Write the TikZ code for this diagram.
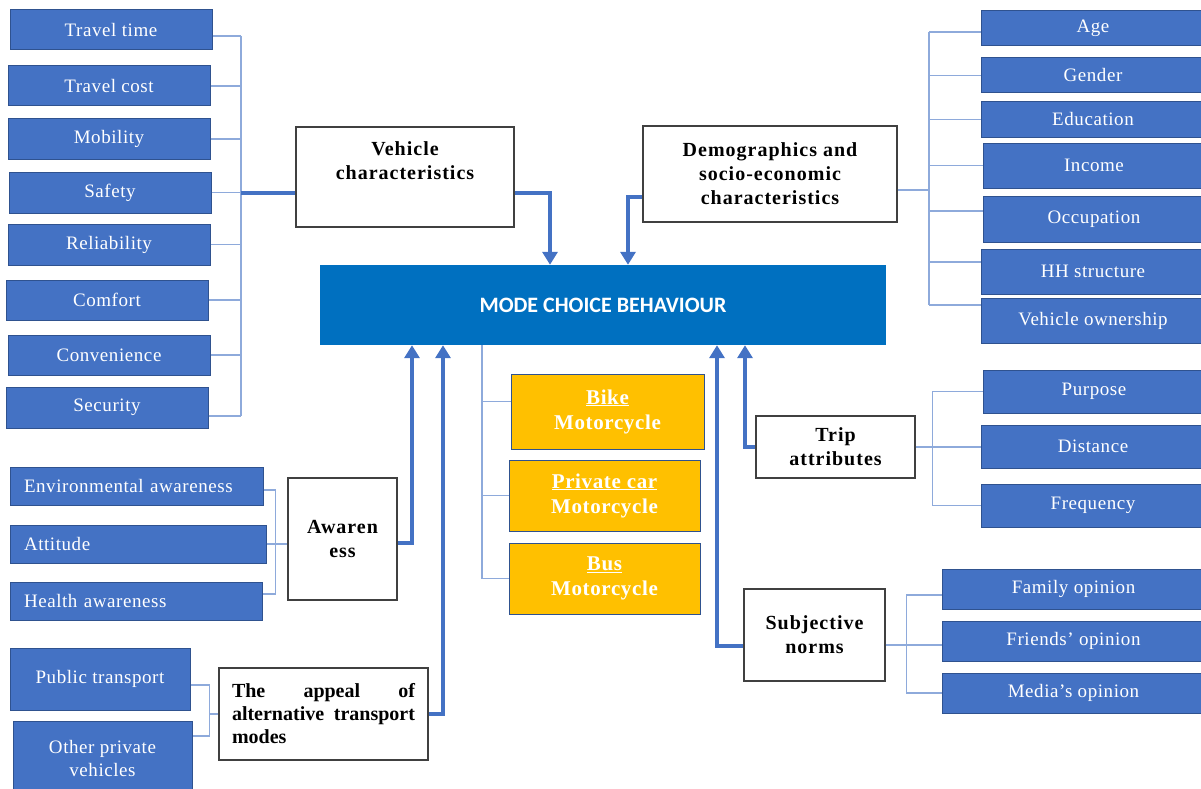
\documentclass[tikz,border=0pt]{standalone}
\usepackage{fontspec}
\setmainfont{Liberation Serif}
\newfontfamily\calibfont{Carlito}
\usetikzlibrary{arrows.meta}
\definecolor{factblue}{HTML}{4472C4}
\definecolor{factline}{HTML}{2F528F}
\definecolor{modeblue}{HTML}{0070C0}
\definecolor{optyellow}{HTML}{FFC000}
\definecolor{linkblue}{HTML}{8EAADB}
\definecolor{arrowblue}{HTML}{4472C4}
\definecolor{grpline}{HTML}{404040}

\begin{document}
\begin{tikzpicture}[x=1pt, y=-1pt]
    \tikzset{%
      sz/.style 2 args={minimum width=#1, minimum height=#2},
      fact/.style={draw=factline, line width=1pt, fill=factblue, text=white, inner sep=1pt, align=center, font=\addfontfeature{LetterSpace=3}\fontsize{19}{23}\selectfont},
      lfact/.style={fact, align=left, inner xsep=14pt},
      grp/.style={draw=grpline, line width=1.2pt, fill=white, inner sep=1pt, align=center, font=\bfseries\addfontfeature{LetterSpace=5}\fontsize{20}{24}\selectfont},
      modebox/.style={fill=modeblue, text=white, font=\calibfont\bfseries\fontsize{22}{26}\selectfont},
      opt/.style={draw=factline, line width=1pt, fill=optyellow, text=white, align=center, font=\bfseries\addfontfeature{LetterSpace=3}\fontsize{21}{25}\selectfont},
      link/.style={draw=linkblue, line width=1.3pt},
      arr/.style={draw=arrowblue, line width=4pt, -{Triangle[length=13pt,width=15pt]}}
      }
     \useasboundingbox (0,0) rectangle (1201,789);

     % vehicle characteristics
     \node [fact, sz={202}{40}] (Tt) at (111,30) {Travel time};
     \node [fact, sz={202}{40}] (Tc) at (109,86) {Travel cost};
     \node [fact, sz={202}{40}] (Mb) at (109,139) {Mobility};
     \node [fact, sz={202}{41}] (Sf) at (110,192.5) {Safety};
     \node [fact, sz={202}{41}] (Rl) at (109,244.5) {Reliability};
     \node [fact, sz={202}{40}] (Cf) at (107,300) {Comfort};
     \node [fact, sz={202}{40}] (Cv) at (109,355) {Convenience};
     \node [fact, sz={202}{41}] (Sc) at (107,407.5) {Security};
     \node [grp, sz={218}{100}] (Vc) at (405,177) {Vehicle\\characteristics\\[8pt]~};

     % demographics
     \node [grp, sz={254}{96}] (Dm) at (770,174) {Demographics and\\socio-economic\\characteristics};
     \node [fact, sz={224}{35}] (Ag) at (1093,28.5) {Age};
     \node [fact, sz={224}{35}] (Gd) at (1093,75.5) {Gender};
     \node [fact, sz={224}{35}] (Ed) at (1093,119.5) {Education};
     \node [fact, sz={222}{45}] (In) at (1094,165.5) {Income};
     \node [fact, sz={222}{46}] (Oc) at (1094,219) {Occupation};
     \node [fact, sz={224}{45}] (Hh) at (1093,271.5) {HH structure};
     \node [fact, sz={224}{45}] (Vo) at (1093,320.5) {Vehicle ownership};

     \node [modebox, sz={566}{80}] (Mcb) at (603,305) {MODE CHOICE BEHAVIOUR};

     % modes
     \node [opt, sz={193}{75}] (Bk) at (607.5,411.5) {\underline{Bike}\\Motorcycle};
     \node [opt, sz={191}{71}] (Pc) at (604.5,495.5) {\underline{Private car}\\Motorcycle};
     \node [opt, sz={191}{71}] (Bu) at (604.5,578.5) {\underline{Bus}\\Motorcycle};

     % trip attributes
     \node [grp, sz={159}{62}] (Ta) at (835.5,447) {Trip\\attributes};
     \node [fact, sz={222}{43}] (Pp) at (1094,391.5) {Purpose};
     \node [fact, sz={224}{43}] (Ds) at (1093,446.5) {Distance};
     \node [fact, sz={224}{43}] (Fq) at (1093,505.5) {Frequency};

     % subjective norms
     \node [grp, sz={141}{92}] (Sn) at (814.5,635) {Subjective\\norms};
     \node [fact, sz={263}{40}] (Fo) at (1073.5,589) {Family opinion};
     \node [fact, sz={263}{40}] (Fr) at (1073.5,641) {Friends’ opinion};
     \node [fact, sz={263}{40}] (Md) at (1073.5,693) {Media’s opinion};

     % awareness
     \node [lfact, text width=225, minimum height=38] (Ea) at (136.5,486) {Environmental awareness};
     \node [lfact, text width=228, minimum height=38] (At) at (138,544) {Attitude};
     \node [lfact, text width=224, minimum height=38] (Ha) at (136,601) {Health awareness};
     \node [grp, sz={109}{122}] (Aw) at (342.5,539) {Awaren\\ess};

     % alternative modes
     \node [fact, sz={180}{62}] (Pt) at (100,679) {Public transport};
     \node [fact, sz={179}{74}] (Op) at (102.5,758) {Other private\\vehicles};
     \node [grp, text width=183, align=left, inner xsep=13pt, minimum height=92,
            font=\bfseries\fontsize{20}{23}\selectfont] (Ap) at (323.5,714)
           {The\hfill appeal\hfill of\\\mbox{alternative}\hfill\mbox{transport}\\modes};

     % brackets
     \coordinate (lbusT) at (241,36);
     \coordinate (lbusB) at (241,416);
     \draw [link] (lbusT) -- (lbusB);
     \draw [link] ([yshift=-6pt]Tt.east) -- (lbusT);
     \draw [link] (Tc.east) -- (Tc.east -| lbusT);
     \draw [link] (Mb.east) -- (Mb.east -| lbusT);
     \draw [link] (Sf.east) -- (Sf.east -| lbusT);
     \draw [link] (Rl.east) -- (Rl.east -| lbusT);
     \draw [link] (Cf.east) -- (Cf.east -| lbusT);
     \draw [link] (Cv.east) -- (Cv.east -| lbusT);
     \draw [link] ([yshift=-8.5pt]Sc.east) -- (lbusB);
     \draw [arrowblue, line width=4pt] (Sf.east -| lbusT) -- (Sf.east -| Vc.west);

     \coordinate (rbusT) at (929,32);
     \coordinate (rbusB) at (929,305);
     \draw [link] (rbusT) -- (rbusB);
     \draw [link] ([yshift=-3.5pt]Ag.west) -- (rbusT);
     \draw [link] (Gd.west) -- (Gd.west -| rbusT);
     \draw [link] (Ed.west) -- (Ed.west -| rbusT);
     \draw [link] (In.west) -- (In.west -| rbusT);
     \draw [link] ([yshift=8pt]Oc.west) -- +(-54,0);
     \draw [link] ([yshift=9.5pt]Hh.west) -- +(-52,0);
     \draw [link] ([yshift=15.5pt]Vo.west) -- (rbusB);
     \draw [link] ([yshift=-16pt]Dm.east) -- +(32,0);

     \coordinate (ybus) at ([xshift=-121pt]Mcb.south);
     \draw [link] (ybus) |- (Bu.west);
     \draw [link] ([yshift=10pt]Bk.west) -- +(-29,0);
     \draw [link] (Pc.west) -- (Pc.west -| ybus);

     \coordinate (tbus) at ([xshift=17pt]Ta.east);
     \draw [link] (Pp.west) -| (tbus) |- (Fq.west);
     \draw [link] (Ta.east) -- (Ta.east -| Ds.west);

     \coordinate (sbus) at ([xshift=21pt]Sn.east);
     \draw [link] ([yshift=-6pt]Fo.west) -| (sbus) |- (Md.west);
     \draw [link] ([yshift=-10pt]Sn.east) -- ([yshift=-4pt]Fr.west);

     \coordinate (abus) at ([xshift=9pt]At.east);
     \draw [link] ([yshift=-4pt]Ea.east) -| (abus) |- ([yshift=7pt]Ha.east);
     \draw [link] (At.east) -- (At.east -| Aw.west);

     \coordinate (pbus) at ([xshift=-9pt]Ap.west);
     \draw [link] ([yshift=-6pt]Pt.east) -| (pbus) |- ([yshift=22pt]Op.east);
     \draw [link] (pbus) -- (Ap.west);

     % into the mode choice box
     \draw [arr] ([yshift=-16pt]Vc.east) -| ([xshift=-53pt]Mcb.north);
     \draw [arr] ([yshift=-23pt]Dm.west) -| ([xshift=25pt]Mcb.north);
     \draw [arr] ([yshift=-4pt]Aw.east) -| ([xshift=-191pt]Mcb.south);
     \draw [arr] (Ap.east) -| ([xshift=-160pt]Mcb.south);
     \draw [arr] ([yshift=-11pt]Sn.west) -| ([xshift=114pt]Mcb.south);
     \draw [arr] (Ta.west) -| ([xshift=142pt]Mcb.south);

  \end{tikzpicture}
\end{document}
